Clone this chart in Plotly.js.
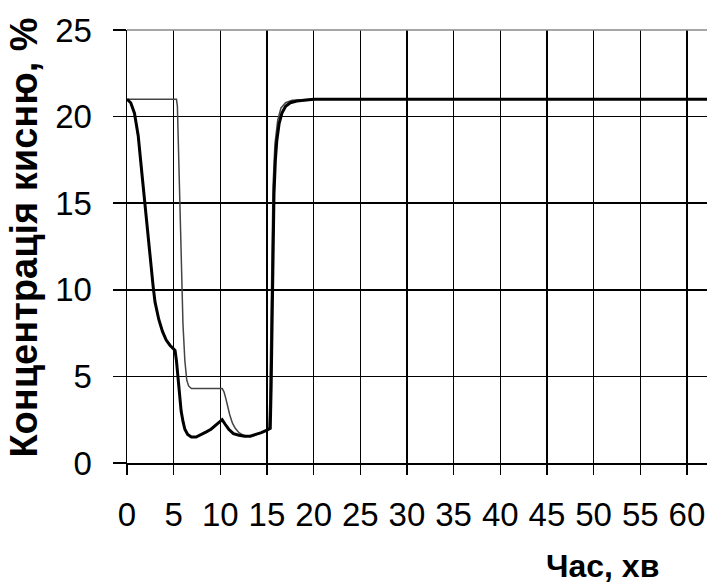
<!DOCTYPE html>
<html>
<head>
<meta charset="utf-8">
<script src="https://cdn.plot.ly/plotly-3.0.1.min.js"></script>
<style>html,body{margin:0;padding:0;background:#fff;}#chart{width:707px;height:588px;}</style>
</head>
<body>
<div id="chart"></div>
<script>
// Thick curve (time, min / oxygen concentration, %)
const thickX = [0, 0.4, 0.8, 1.2, 1.6, 2.0, 2.4, 2.8, 3.0, 3.4, 3.8, 4.2, 4.6, 5.0, 5.15, 5.3, 5.45, 5.6, 5.8, 6.0, 6.2, 6.5, 6.9, 7.4, 8.0, 8.5, 9.0, 9.5, 10.0, 10.2, 10.5, 10.9, 11.4, 12.0, 12.6, 13.2, 13.8, 14.4, 15.0, 15.35, 15.45, 15.55, 15.65, 15.75, 15.9, 16.05, 16.3, 16.6, 17.0, 17.5, 18.2, 19.0, 20, 25, 30, 35, 40, 45, 50, 55, 60, 63];
const thickY = [21.0, 20.8, 20.2, 18.9, 16.7, 14.4, 12.2, 10.2, 9.3, 8.3, 7.6, 7.1, 6.8, 6.55, 6.5, 5.9, 4.9, 3.9, 3.0, 2.4, 1.95, 1.65, 1.5, 1.5, 1.65, 1.8, 1.95, 2.2, 2.45, 2.5, 2.25, 1.95, 1.7, 1.6, 1.55, 1.55, 1.65, 1.75, 1.9, 2.0, 4.5, 9.0, 13.0, 15.5, 17.5, 18.6, 19.6, 20.2, 20.6, 20.8, 20.9, 20.95, 21.0, 21.0, 21.0, 21.0, 21.0, 21.0, 21.0, 21.0, 21.0, 21.0];

// Thin curve
const thinX = [0, 5.3, 5.4, 5.6, 5.8, 6.0, 6.2, 6.4, 6.6, 6.9, 10.2, 10.4, 10.6, 10.8, 11.0, 11.3, 11.6, 12.0, 12.5, 13.0, 13.6, 14.2, 14.8, 15.2, 15.3, 15.4, 15.5, 15.65, 15.85, 16.15, 16.5, 17.0, 17.7, 19.0, 20, 25, 30, 35, 40, 45, 50, 55, 60, 63];
const thinY = [21.0, 21.0, 20.6, 16.5, 11.5, 8.0, 5.9, 4.8, 4.45, 4.3, 4.3, 4.1, 3.7, 3.2, 2.8, 2.3, 2.0, 1.75, 1.6, 1.55, 1.6, 1.7, 1.85, 1.95, 3.5, 8.0, 12.5, 16.0, 18.4, 19.8, 20.5, 20.8, 20.95, 21.0, 21.0, 21.0, 21.0, 21.0, 21.0, 21.0, 21.0, 21.0, 21.0, 21.0];

const xTicks = [0, 5, 10, 15, 20, 25, 30, 35, 40, 45, 50, 55, 60];
const yTicks = [0, 5, 10, 15, 20, 25];
const xTitle = 'Час, хв';
const yTitle = 'Концентрація кисню, %';

const traces = [
  {x: thinX, y: thinY, type: 'scatter', mode: 'lines', line: {color: '#444', width: 1.5}, hoverinfo: 'skip'},
  {x: thickX, y: thickY, type: 'scatter', mode: 'lines', line: {color: '#000', width: 3}, hoverinfo: 'skip'}
];

const tickFont = {family: 'Liberation Sans, Arial, sans-serif', size: 33, color: '#000'};
const xTitleFont = {family: 'Liberation Sans, Arial, sans-serif', size: 32, color: '#000', weight: 'bold'};
const yTitleFont = {family: 'Liberation Sans, Arial, sans-serif', size: 38, color: '#000', weight: 'bold'};

const layout = {
  width: 707, height: 588,
  margin: {l: 127, r: 0, t: 30, b: 125},
  paper_bgcolor: '#fff', plot_bgcolor: '#fff',
  showlegend: false,
  xaxis: {
    range: [0, 62.15], tickvals: xTicks, ticktext: xTicks.map(String),
    showgrid: true, gridcolor: '#000', gridwidth: 1.5,
    zeroline: false, showline: true, linecolor: '#000', linewidth: 1.5,
    ticks: 'outside', ticklen: 10, tickwidth: 1.5, tickcolor: '#000',
    tickfont: tickFont, ticklabelstandoff: 12
  },
  yaxis: {
    range: [0, 25], tickvals: yTicks, ticktext: yTicks.map(String),
    showgrid: true, gridcolor: '#000', gridwidth: 1.5,
    zeroline: false, showline: true, linecolor: '#000', linewidth: 1.5,
    ticks: 'outside', ticklen: 13, tickwidth: 1.5, tickcolor: '#000',
    tickfont: tickFont, ticklabelstandoff: 14
  },
  shapes: [
    {type: 'line', xref: 'paper', yref: 'paper', x0: 0, x1: 1, y0: 1, y1: 1, line: {color: '#888', width: 1.5}}
  ],
  annotations: [
    {text: '<b>' + xTitle + '</b>', xref: 'paper', yref: 'paper', x: 0.82, y: -0.237, xanchor: 'center', yanchor: 'middle', showarrow: false, font: xTitleFont},
    {text: '<b>' + yTitle + '</b>', xref: 'paper', yref: 'paper', x: -0.178, y: 0.52, xanchor: 'center', yanchor: 'middle', textangle: -90, showarrow: false, font: yTitleFont}
  ]
};

Plotly.newPlot('chart', traces, layout, {displayModeBar: false, staticPlot: true});
</script>
</body>
</html>
